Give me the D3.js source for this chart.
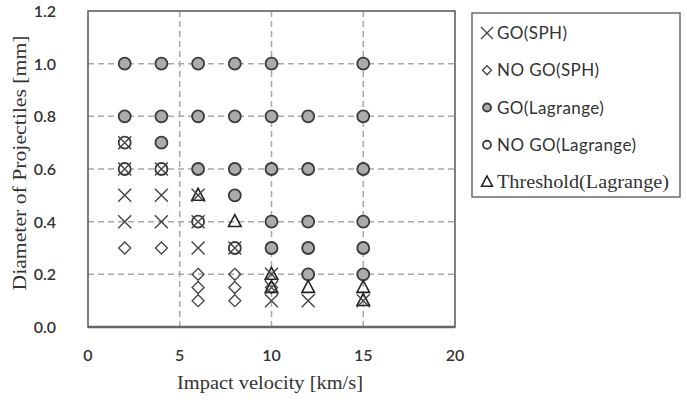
<!DOCTYPE html>
<meta charset="utf-8">
<script src="https://d3js.org/d3.v7.min.js"></script>
<style>
  body { margin: 0; background: #fff; }
  .tick-label { font-family: Lato, "Open Sans", sans-serif; font-size: 16px; font-weight: 600; fill: #333; }
  .title { font-family: "Liberation Serif", serif; font-size: 18px; fill: #333; }
  .leg { font-family: Lato, "Open Sans", sans-serif; font-size: 17px; fill: #333; letter-spacing: 0.4px; }
</style>
<svg id="chart" width="687" height="403"></svg>
<script>
// [impact velocity km/s, diameter mm]
var goSPH = [[2,0.7],[2,0.6],[2,0.5],[2,0.4],[4,0.6],[4,0.5],[4,0.4],[6,0.5],[6,0.4],[6,0.3],
             [8,0.3],[10,0.2],[10,0.15],[10,0.1],[12,0.1],[15,0.1]];
var noGoSPH = [[2,0.3],[4,0.3],[6,0.2],[6,0.15],[6,0.1],[8,0.2],[8,0.15],[8,0.1],[10,0.15]];
var goLag = [[2,1.0],[2,0.8],[4,1.0],[4,0.8],[4,0.7],[6,1.0],[6,0.8],[6,0.6],
             [8,1.0],[8,0.8],[8,0.6],[8,0.5],[10,1.0],[10,0.8],[10,0.6],[10,0.4],[10,0.3],
             [12,0.8],[12,0.6],[12,0.4],[12,0.3],[12,0.2],
             [15,1.0],[15,0.8],[15,0.6],[15,0.4],[15,0.3],[15,0.2]];
var noGoLag = [[2,0.7],[2,0.6],[4,0.6],[6,0.4],[8,0.3]];
var threshold = [[6,0.5],[8,0.4],[10,0.2],[10,0.15],[12,0.15],[15,0.15],[15,0.1]];

var xTicks = [0, 5, 10, 15, 20];
var yTicks = [0.0, 0.2, 0.4, 0.6, 0.8, 1.0, 1.2];
var legendNames = ["GO(SPH)", "NO GO(SPH)", "GO(Lagrange)", "NO GO(Lagrange)", "Threshold(Lagrange)"];

var svg = d3.select("#chart");
var margin = { top: 11, left: 88, right: 455, bottom: 327 };

var x = d3.scaleLinear().domain([0, 20]).range([margin.left, margin.right]);
var y = d3.scaleLinear().domain([0, 1.2]).range([margin.bottom, margin.top]);

// grid
svg.append("g").selectAll("line").data(xTicks.slice(1, -1)).enter().append("line")
  .attr("x1", d => x(d)).attr("x2", d => x(d))
  .attr("y1", margin.top).attr("y2", margin.bottom)
  .attr("stroke", "#a8a8a8").attr("stroke-width", 1.5).attr("stroke-dasharray", "6,4");
svg.append("g").selectAll("line").data(yTicks.slice(1, -1)).enter().append("line")
  .attr("x1", margin.left).attr("x2", margin.right)
  .attr("y1", d => y(d)).attr("y2", d => y(d))
  .attr("stroke", "#a8a8a8").attr("stroke-width", 1.5).attr("stroke-dasharray", "6,4");

// frame
svg.append("rect")
  .attr("x", margin.left).attr("y", margin.top)
  .attr("width", margin.right - margin.left).attr("height", margin.bottom - margin.top)
  .attr("fill", "none").attr("stroke", "#555").attr("stroke-width", 1.5);
svg.append("line")
  .attr("x1", margin.left).attr("x2", margin.right)
  .attr("y1", margin.bottom).attr("y2", margin.bottom)
  .attr("stroke", "#666").attr("stroke-width", 2.5);

// tick labels
svg.append("g").selectAll("text").data(xTicks).enter().append("text")
  .attr("class", "tick-label")
  .attr("x", d => x(d)).attr("y", 361)
  .attr("text-anchor", "middle")
  .text(d => d);
svg.append("g").selectAll("text").data(yTicks).enter().append("text")
  .attr("class", "tick-label")
  .attr("x", 56).attr("y", d => y(d) + 6)
  .attr("text-anchor", "end")
  .text(d => d.toFixed(1));

// axis titles
svg.append("text").attr("class", "title")
  .attr("x", 270).attr("y", 389)
  .attr("text-anchor", "middle")
  .attr("textLength", 186).attr("lengthAdjust", "spacingAndGlyphs")
  .text("Impact velocity [km/s]");
svg.append("text").attr("class", "title")
  .attr("transform", "translate(26," + 163 + ") rotate(-90)")
  .attr("text-anchor", "middle")
  .attr("textLength", 255).attr("lengthAdjust", "spacingAndGlyphs")
  .text("Diameter of Projectiles [mm]");

// marker drawers
function drawCircle(g, cx, cy, r, fill) {
  g.append("circle").attr("cx", cx).attr("cy", cy).attr("r", r)
    .attr("fill", fill).attr("stroke", "#3a3a3a").attr("stroke-width", 1.8);
}
function drawDiamond(g, cx, cy, s) {
  g.append("path")
    .attr("d", "M" + cx + "," + (cy - s) + "L" + (cx + s) + "," + cy + "L" + cx + "," + (cy + s) + "L" + (cx - s) + "," + cy + "Z")
    .attr("fill", "none").attr("stroke", "#444").attr("stroke-width", 1.3);
}
function drawTriangle(g, cx, cy, s) {
  g.append("path")
    .attr("d", "M" + cx + "," + (cy - s) + "L" + (cx + s * 0.9) + "," + (cy + s * 0.7) + "L" + (cx - s * 0.9) + "," + (cy + s * 0.7) + "Z")
    .attr("fill", "none").attr("stroke", "#222").attr("stroke-width", 1.6);
}
function drawCross(g, cx, cy, s) {
  g.append("path")
    .attr("d", "M" + (cx - s) + "," + (cy - s) + "L" + (cx + s) + "," + (cy + s) + "M" + (cx + s) + "," + (cy - s) + "L" + (cx - s) + "," + (cy + s))
    .attr("fill", "none").attr("stroke", "#444").attr("stroke-width", 1.4);
}

var marks = svg.append("g");
goLag.forEach(d => drawCircle(marks, x(d[0]), y(d[1]), 6, "#ababab"));
noGoLag.forEach(d => drawCircle(marks, x(d[0]), y(d[1]), 6, "#fff"));
noGoSPH.forEach(d => drawDiamond(marks, x(d[0]), y(d[1]), 6));
threshold.forEach(d => drawTriangle(marks, x(d[0]), y(d[1]), 7));
goSPH.forEach(d => drawCross(marks, x(d[0]), y(d[1]), 6.5));

// legend
var lg = svg.append("g");
lg.append("rect").attr("x", 472).attr("y", 13).attr("width", 208).attr("height", 184)
  .attr("fill", "#fff").attr("stroke", "#555").attr("stroke-width", 1.3);
var legY = d3.scalePoint().domain(legendNames).range([33, 182]);
var sx = 487;
drawCross(lg, sx, legY(legendNames[0]), 6);
drawDiamond(lg, sx, legY(legendNames[1]), 4.5);
drawCircle(lg, sx, legY(legendNames[2]), 4, "#ababab");
drawCircle(lg, sx, legY(legendNames[3]), 4, "#fff");
drawTriangle(lg, sx, legY(legendNames[4]), 6);
lg.selectAll("text.leg").data(legendNames).enter().append("text")
  .attr("class", (d, i) => i === 4 ? "title" : "leg")
  .attr("x", 497).attr("y", d => legY(d) + 6)
  .each(function(d, i) {
    if (i === 4) d3.select(this).attr("textLength", 172).attr("lengthAdjust", "spacingAndGlyphs");
  })
  .text(d => d);
</script>
